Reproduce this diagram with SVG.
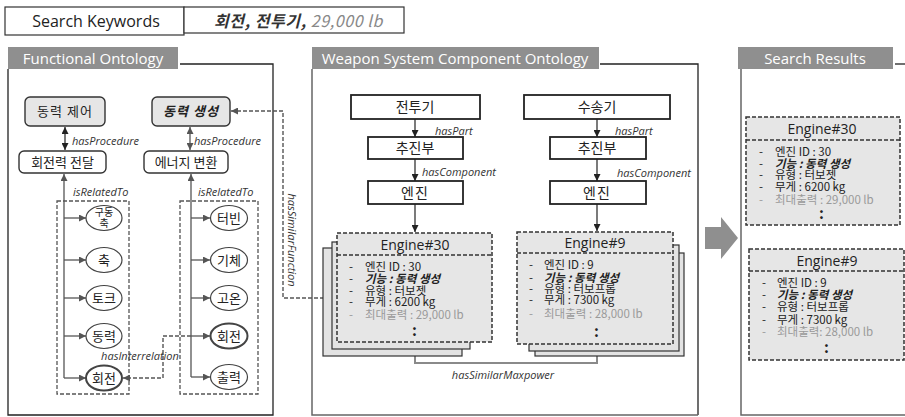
<svg xmlns="http://www.w3.org/2000/svg" width="905" height="417" viewBox="0 0 905 417">
<style>
.bg{fill:#fff}
.pl{fill:none;stroke:#222;stroke-width:1.3}
.pm{fill:none;stroke:#666;stroke-width:1.5}
.hdr{fill:#8f8f8f}
.hdt{font-family:"Open Sans","Noto Sans",sans-serif;font-size:15px;fill:#fff;text-anchor:middle}
.en{font-family:"Open Sans","Noto Sans",sans-serif}
.kr{font-family:"Noto Sans CJK KR","Noto Sans",sans-serif}
.t11{font-size:11.5px;fill:#222}
.t12{font-size:13px;fill:#222}
.t13{font-size:14px;fill:#222}
.mid{text-anchor:middle}
.lbl{font-family:"Open Sans","Noto Sans",sans-serif;font-size:11px;font-style:italic;fill:#333}
.bi{font-weight:bold;font-style:italic}
.gr{fill:#9a9a9a}
.rbox{stroke:#333;stroke-width:1.4}
.sq{fill:#fff;stroke:#222;stroke-width:1.8}
.ell{fill:#fff;stroke:#444;stroke-width:1.2}
.ellb{fill:#fff;stroke:#444;stroke-width:2}
.dbox{fill:none;stroke:#555;stroke-width:1.3;stroke-dasharray:4 2}
.eng{fill:#e6e6e6;stroke:#333;stroke-width:1.5;stroke-dasharray:4 2}
.lay{fill:#e3e3e3;stroke:#333;stroke-width:1.2}
.dv{stroke:#333;stroke-width:1.5;stroke-dasharray:4 2}
.cb{fill:none;stroke:#222;stroke-width:1.2}
.cg{fill:none;stroke:#555;stroke-width:1.3}
.cd{fill:none;stroke:#555;stroke-width:1.4;stroke-dasharray:4 2}
.cm{fill:none;stroke:#8a8a8a;stroke-width:2}
</style>
<defs>
<marker id="ab" viewBox="0 0 10 10" refX="10" refY="5" markerWidth="7" markerHeight="7" markerUnits="userSpaceOnUse" orient="auto-start-reverse"><path d="M0,0 L10,5 L0,10 z" fill="#222"/></marker>
<marker id="ag" viewBox="0 0 10 10" refX="10" refY="5" markerWidth="7" markerHeight="7" markerUnits="userSpaceOnUse" orient="auto-start-reverse"><path d="M0,0 L10,5 L0,10 z" fill="#555"/></marker>
<marker id="am" viewBox="0 0 10 10" refX="10" refY="5" markerWidth="8" markerHeight="8" markerUnits="userSpaceOnUse" orient="auto-start-reverse"><path d="M0,0 L10,5 L0,10 z" fill="#8a8a8a"/></marker>
</defs>
<rect class="bg" x="0" y="0" width="905" height="417"/>

<g id="search-keywords">
<rect x="5" y="7" width="179" height="28" fill="#fff" stroke="#333" stroke-width="1.2"/>
<rect x="184" y="7" width="220" height="26" fill="#fff" stroke="#333" stroke-width="1.2"/>
<text class="en" x="96" y="27" font-size="16" fill="#222" text-anchor="middle">Search Keywords</text>
<text class="kr" x="214" y="27" font-size="16" font-style="italic" letter-spacing="0.6"><tspan font-weight="bold" fill="#333">회전, 전투기, </tspan><tspan fill="#888">29,000 lb</tspan></text>
</g>

<g id="panel-functional">
<rect class="hdr" x="8" y="47" width="170" height="22"/>
<text class="hdt" x="93" y="63.5">Functional Ontology</text>
<path class="pl" d="M180,64 H273 V415 H8 V69"/>
</g>
<g id="panel-weapon">
<rect class="hdr" x="312" y="47" width="287" height="22"/>
<text class="hdt" x="455" y="63.5">Weapon System Component Ontology</text>
<path class="pl" d="M600,64 H698 V415"/>
<path class="pm" d="M698,415 H312 V69"/>
</g>
<g id="panel-results">
<rect class="hdr" x="738" y="47" width="155" height="22"/>
<text class="hdt" x="815" y="63.5">Search Results</text>
<path class="pl" d="M895,64 H905"/>
<path class="pm" d="M741,69 V415 H905"/>
</g>

<g id="big-arrow">
<polygon points="705,227 721,227 721,217 738,238 721,259 721,249 705,249" fill="#8f8f8f"/>
</g>

<g id="connectors">
<path class="cb" d="M65,127 V150" marker-start="url(#ab)" marker-end="url(#ab)"/>
<path class="cg" d="M190,127 V150" marker-start="url(#ag)" marker-end="url(#ag)"/>
<path class="cg" d="M64,378 V174" marker-end="url(#ag)"/>
<path class="cg" d="M64,218 H86" marker-end="url(#ag)"/>
<path class="cg" d="M64,260 H86" marker-end="url(#ag)"/>
<path class="cg" d="M64,298 H86" marker-end="url(#ag)"/>
<path class="cg" d="M64,336 H86" marker-end="url(#ag)"/>
<path class="cg" d="M64,378 H86" marker-end="url(#ag)"/>
<path class="cg" d="M191,377 V174" marker-end="url(#ag)"/>
<path class="cg" d="M191,218 H210" marker-end="url(#ag)"/>
<path class="cg" d="M191,260 H210" marker-end="url(#ag)"/>
<path class="cg" d="M191,298 H210" marker-end="url(#ag)"/>
<path class="cg" d="M191,336 H210" marker-end="url(#ag)"/>
<path class="cg" d="M191,377 H210" marker-end="url(#ag)"/>
<path class="cd" d="M191,336 H163 V378 H123" marker-end="url(#ag)"/>
<path class="cd" d="M231,111 H283 V298 H336" marker-start="url(#ag)" marker-end="url(#ag)"/>
<path class="cb" d="M415,119 V137" marker-end="url(#ab)"/>
<path class="cb" d="M415,159 V181" marker-end="url(#ab)"/>
<path class="cb" d="M415,204 V232" marker-end="url(#ab)"/>
<path class="cb" d="M597,119 V137" marker-end="url(#ab)"/>
<path class="cb" d="M597,159 V181" marker-end="url(#ab)"/>
<path class="cb" d="M597,204 V231" marker-end="url(#ab)"/>
<path class="cm" d="M415,343 V363 H597 V345" marker-start="url(#am)" marker-end="url(#am)"/>
<text class="lbl" x="72" y="145">hasProcedure</text>
<text class="lbl" x="194" y="145">hasProcedure</text>
<text class="lbl" x="73" y="196">isRelatedTo</text>
<text class="lbl" x="198" y="196">isRelatedTo</text>
<text class="lbl" x="140" y="360" text-anchor="middle">hasInterrelation</text>
<text class="lbl" transform="translate(288,240) rotate(90)" text-anchor="middle">hasSimilarFunction</text>
<text class="lbl" x="435" y="135">hasPart</text>
<text class="lbl" x="615" y="135">hasPart</text>
<text class="lbl" x="422" y="176">hasComponent</text>
<text class="lbl" x="617" y="177">hasComponent</text>
<text class="lbl" x="503" y="379" font-size="12" text-anchor="middle">hasSimilarMaxpower</text>
</g>

<g id="n-power-control">
<rect x="25" y="97" width="80" height="29" rx="5" fill="#e6e6e6" class="rbox"/>
<text class="kr t12 mid" x="65" y="116" letter-spacing="1">동력 제어</text>
</g>
<g id="n-power-gen">
<rect x="152" y="97" width="78" height="29" rx="5" fill="#e6e6e6" class="rbox"/>
<text class="kr t12 mid bi" x="191" y="116" letter-spacing="1">동력 생성</text>
</g>
<g id="n-torque-trans">
<rect x="19" y="151" width="87" height="22" rx="5" fill="#fff" class="rbox"/>
<text class="kr t12 mid" x="62.5" y="166.5">회전력 전달</text>
</g>
<g id="n-energy-conv">
<rect x="144" y="151" width="84" height="22" rx="5" fill="#fff" class="rbox"/>
<text class="kr t12 mid" x="186" y="166.5">에너지 변환</text>
</g>

<g id="group-left"><rect class="dbox" x="57" y="201" width="72" height="193"/></g>
<g id="group-right"><rect class="dbox" x="180" y="201" width="78" height="193"/></g>

<g id="e-driveshaft"><ellipse class="ell" cx="104" cy="218" rx="18" ry="12.5"/><text class="kr mid" font-size="10" fill="#222"><tspan x="104" y="216">구동</tspan><tspan x="104" y="227">축</tspan></text></g>
<g id="e-shaft"><ellipse class="ell" cx="104" cy="260" rx="18" ry="12.5"/><text class="kr t12 mid" x="104" y="264.5">축</text></g>
<g id="e-torque"><ellipse class="ell" cx="104" cy="298" rx="18" ry="12.5"/><text class="kr t12 mid" x="104" y="302.5">토크</text></g>
<g id="e-power"><ellipse class="ell" cx="104" cy="336" rx="18" ry="12.5"/><text class="kr t12 mid" x="104" y="340.5">동력</text></g>
<g id="e-rot-left"><ellipse class="ellb" cx="104" cy="378" rx="18" ry="12.5"/><text class="kr t12 mid" x="104" y="382.5">회전</text></g>
<g id="e-turbine"><ellipse class="ell" cx="229" cy="218" rx="18.5" ry="12.5"/><text class="kr t12 mid" x="229" y="222.5">터빈</text></g>
<g id="e-gas"><ellipse class="ell" cx="229" cy="260" rx="18.5" ry="12.5"/><text class="kr t12 mid" x="229" y="264.5">기체</text></g>
<g id="e-hightemp"><ellipse class="ell" cx="229" cy="298" rx="18.5" ry="12.5"/><text class="kr t12 mid" x="229" y="302.5">고온</text></g>
<g id="e-rot-right"><ellipse class="ellb" cx="229" cy="336" rx="18.5" ry="12.5"/><text class="kr t12 mid" x="229" y="340.5">회전</text></g>
<g id="e-output"><ellipse class="ell" cx="229" cy="377" rx="18.5" ry="12.5"/><text class="kr t12 mid" x="229" y="381.5">출력</text></g>

<g id="n-fighter"><rect class="sq" x="351" y="95" width="129" height="24"/><text class="kr t13 mid" x="415" y="112">전투기</text></g>
<g id="n-transport"><rect class="sq" x="524" y="95" width="146" height="24"/><text class="kr t13 mid" x="597" y="112">수송기</text></g>
<g id="n-prop-left"><rect class="sq" x="368" y="137" width="95" height="22" stroke-width="1.3"/><text class="kr t13 mid" x="415" y="153">추진부</text></g>
<g id="n-prop-right"><rect class="sq" x="550" y="137" width="96" height="22" stroke-width="1.3"/><text class="kr t13 mid" x="597" y="153">추진부</text></g>
<g id="n-engine-left"><rect class="sq" x="368" y="181" width="95" height="23" stroke-width="1.3"/><text class="kr t13 mid" x="415" y="197.5" letter-spacing="1">엔진</text></g>
<g id="n-engine-right"><rect class="sq" x="550" y="181" width="96" height="23" stroke-width="1.3"/><text class="kr t13 mid" x="597" y="197.5" letter-spacing="1">엔진</text></g>

<g id="engine30-mid">
<rect class="lay" x="323" y="248" width="139" height="108"/>
<rect class="lay" x="332" y="242" width="138" height="107"/>
<rect class="eng" x="337" y="233" width="155" height="109"/>
<line class="dv" x1="337" y1="255" x2="492" y2="255"/>
<text class="en t13 mid" x="415" y="249.5">Engine#30</text>
<text class="kr t11"><tspan x="349" y="271">-</tspan><tspan x="365">엔진 ID : 30</tspan><tspan x="349" y="283">-</tspan><tspan x="365" class="bi">기능 : 동력 생성</tspan><tspan x="349" y="295">-</tspan><tspan x="365">유형 : 터보젯</tspan><tspan x="349" y="306">-</tspan><tspan x="365">무게 : 6200 kg</tspan><tspan x="349" y="319" class="gr">-</tspan><tspan x="365" class="gr">최대출력 : 29,000 lb</tspan><tspan x="412" y="336" font-size="15" font-weight="bold">:</tspan></text>
</g>

<g id="engine9-mid">
<rect class="lay" x="535" y="253" width="149" height="103"/>
<rect class="lay" x="529" y="245" width="150" height="106"/>
<rect class="eng" x="517" y="232" width="156" height="112"/>
<line class="dv" x1="517" y1="253" x2="673" y2="253"/>
<text class="en t13 mid" x="595" y="248">Engine#9</text>
<text class="kr t11"><tspan x="529" y="269">-</tspan><tspan x="544">엔진 ID : 9</tspan><tspan x="529" y="282">-</tspan><tspan x="544" class="bi">기능 : 동력 생성</tspan><tspan x="529" y="293">-</tspan><tspan x="544">유형 : 터보프롭</tspan><tspan x="529" y="304">-</tspan><tspan x="544">무게 : 7300 kg</tspan><tspan x="529" y="318" class="gr">-</tspan><tspan x="544" class="gr">최대출력 : 28,000 lb</tspan><tspan x="594" y="337" font-size="15" font-weight="bold">:</tspan></text>
</g>

<g id="engine30-result">
<rect class="eng" x="746" y="117" width="154" height="108"/>
<line class="dv" x1="746" y1="140" x2="900" y2="140"/>
<text class="en t13 mid" x="822" y="133.5">Engine#30</text>
<text class="kr t11"><tspan x="759" y="156">-</tspan><tspan x="775">엔진 ID : 30</tspan><tspan x="759" y="167.5">-</tspan><tspan x="775" class="bi">기능 : 동력 생성</tspan><tspan x="759" y="179">-</tspan><tspan x="775">유형 : 터보젯</tspan><tspan x="759" y="191">-</tspan><tspan x="775">무게 : 6200 kg</tspan><tspan x="759" y="204" class="gr">-</tspan><tspan x="775" class="gr">최대출력 : 29,000 lb</tspan><tspan x="819" y="219" font-size="15" font-weight="bold">:</tspan></text>
</g>

<g id="engine9-result">
<rect class="eng" x="749" y="249" width="155" height="111"/>
<line class="dv" x1="749" y1="271" x2="904" y2="271"/>
<text class="en t13 mid" x="827" y="266">Engine#9</text>
<text class="kr t11"><tspan x="762" y="287">-</tspan><tspan x="777">엔진 ID : 9</tspan><tspan x="762" y="299">-</tspan><tspan x="777" class="bi">기능 : 동력 생성</tspan><tspan x="762" y="311">-</tspan><tspan x="777">유형 : 터보프롭</tspan><tspan x="762" y="324">-</tspan><tspan x="777">무게 : 7300 kg</tspan><tspan x="762" y="336" class="gr">-</tspan><tspan x="777" class="gr">최대출력: 28,000 lb</tspan><tspan x="824" y="353" font-size="15" font-weight="bold">:</tspan></text>
</g>
</svg>
